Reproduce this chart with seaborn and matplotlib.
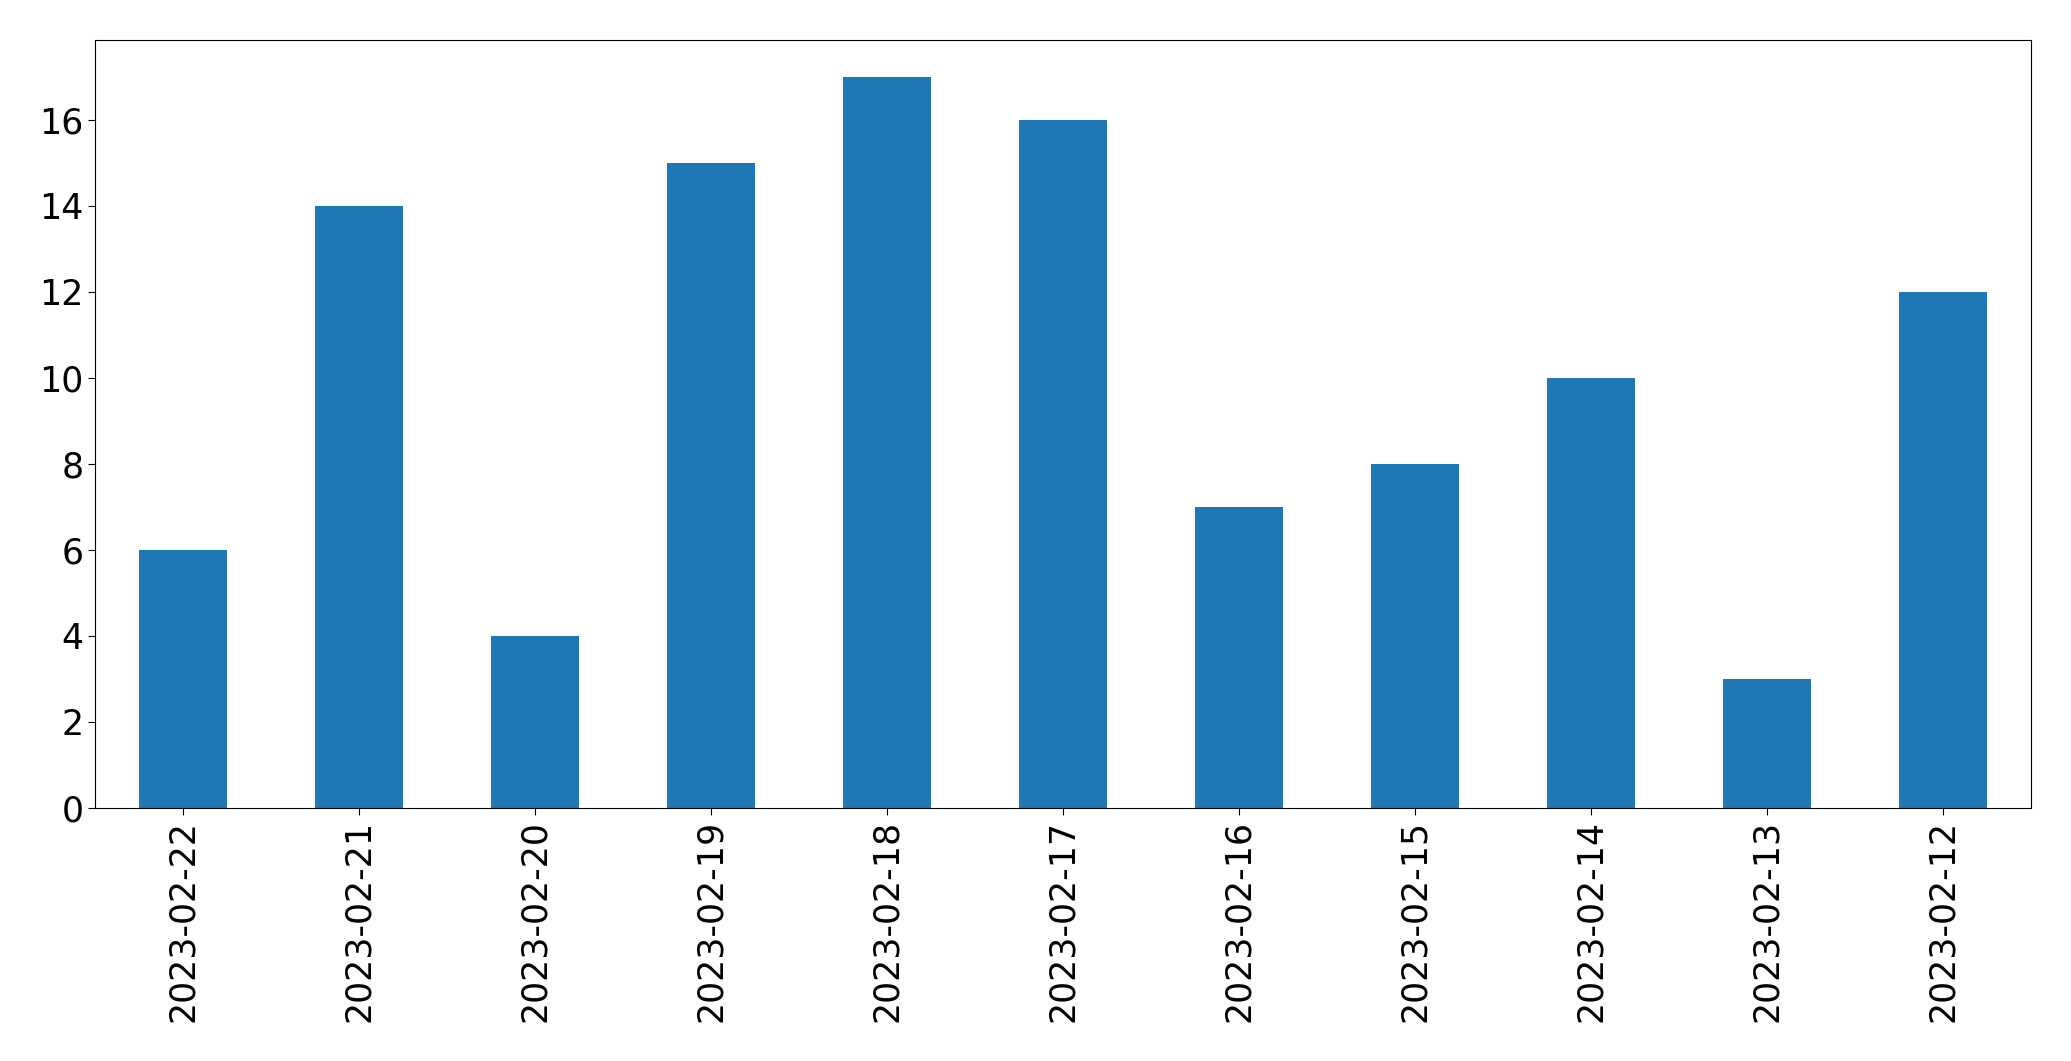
import matplotlib
matplotlib.use("Agg")
import matplotlib.pyplot as plt
import seaborn as sns
import pandas as pd

dates = ["2023-02-22", "2023-02-21", "2023-02-20", "2023-02-19", "2023-02-18", "2023-02-17",
         "2023-02-16", "2023-02-15", "2023-02-14", "2023-02-13", "2023-02-12"]
counts = [6, 14, 4, 15, 17, 16, 7, 8, 10, 3, 12]

df = pd.DataFrame({"date": dates, "count": counts})

fig = plt.figure(figsize=(20.71, 10.61), dpi=100)
ax = fig.add_axes([0.0459, 0.2385, 0.9348, 0.7238])
sns.barplot(data=df, x="date", y="count", order=dates, color="#1f77b4", saturation=1,
            width=0.5, ax=ax, errorbar=None, linewidth=0)
ax.set_xlim(-0.5, len(dates) - 0.5)
ax.set_ylim(0, 17.85)
ax.set_xlabel("")
ax.set_ylabel("")
ax.tick_params(axis="both", labelsize=25, length=5)
ax.tick_params(axis="x", rotation=90)
fig.savefig("out.png", dpi=100)
